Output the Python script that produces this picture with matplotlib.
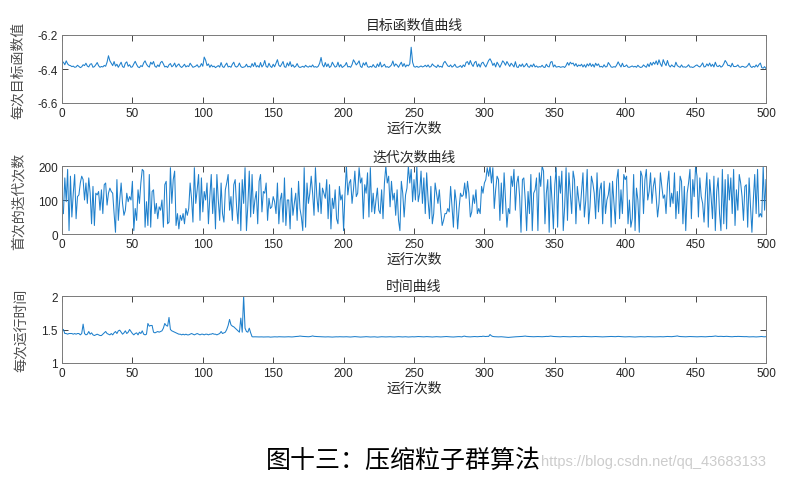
import numpy as np
import matplotlib
matplotlib.use('Agg')
import matplotlib.pyplot as plt

plt.rcParams['font.family'] = ['Liberation Sans', 'Noto Sans CJK SC']
plt.rcParams['axes.unicode_minus'] = False

# 每次目标函数值 (500 runs)
obj_vals = [
    -6.360, -6.375, -6.352, -6.370, -6.378, -6.380, -6.386, -6.383, -6.390, -6.388, -6.378, -6.385, -6.392, -6.387, -6.375, -6.380, -6.366, -6.383, -6.388, -6.372, -6.369, -6.390, -6.386, -6.375, -6.362,
    -6.381, -6.390, -6.385, -6.388, -6.379, -6.384, -6.360, -6.322, -6.352, -6.366, -6.380, -6.356, -6.383, -6.372, -6.390, -6.375, -6.360, -6.386, -6.391, -6.366, -6.358, -6.384, -6.375, -6.390, -6.387,
    -6.370, -6.355, -6.374, -6.388, -6.392, -6.380, -6.386, -6.364, -6.352, -6.372, -6.383, -6.389, -6.360, -6.372, -6.356, -6.384, -6.390, -6.376, -6.386, -6.362, -6.355, -6.370, -6.388, -6.384, -6.391,
    -6.375, -6.368, -6.387, -6.380, -6.365, -6.389, -6.378, -6.370, -6.385, -6.391, -6.383, -6.372, -6.388, -6.381, -6.386, -6.366, -6.378, -6.390, -6.387, -6.383, -6.375, -6.389, -6.386, -6.368, -6.384,
    -6.330, -6.348, -6.380, -6.370, -6.390, -6.376, -6.387, -6.383, -6.392, -6.386, -6.380, -6.389, -6.362, -6.386, -6.391, -6.377, -6.365, -6.388, -6.384, -6.390, -6.372, -6.360, -6.384, -6.389, -6.382,
    -6.365, -6.385, -6.391, -6.389, -6.386, -6.372, -6.388, -6.384, -6.390, -6.368, -6.385, -6.362, -6.388, -6.380, -6.390, -6.362, -6.388, -6.376, -6.350, -6.385, -6.390, -6.366, -6.384, -6.391, -6.372,
    -6.387, -6.366, -6.345, -6.378, -6.386, -6.372, -6.356, -6.387, -6.390, -6.364, -6.382, -6.357, -6.386, -6.375, -6.390, -6.384, -6.368, -6.386, -6.391, -6.388, -6.384, -6.390, -6.378, -6.386, -6.389,
    -6.382, -6.388, -6.376, -6.389, -6.386, -6.390, -6.384, -6.366, -6.332, -6.375, -6.388, -6.362, -6.386, -6.370, -6.391, -6.384, -6.360, -6.376, -6.389, -6.385, -6.360, -6.388, -6.374, -6.391, -6.385,
    -6.378, -6.362, -6.388, -6.385, -6.390, -6.374, -6.346, -6.360, -6.376, -6.366, -6.352, -6.385, -6.391, -6.364, -6.378, -6.360, -6.386, -6.390, -6.384, -6.389, -6.374, -6.387, -6.391, -6.370, -6.386,
    -6.360, -6.388, -6.381, -6.372, -6.389, -6.386, -6.391, -6.385, -6.376, -6.353, -6.384, -6.370, -6.378, -6.390, -6.374, -6.360, -6.385, -6.368, -6.388, -6.376, -6.382, -6.370, -6.272, -6.360, -6.386,
    -6.389, -6.384, -6.390, -6.387, -6.382, -6.388, -6.385, -6.378, -6.387, -6.376, -6.389, -6.386, -6.370, -6.380, -6.385, -6.391, -6.376, -6.388, -6.384, -6.390, -6.365, -6.355, -6.368, -6.382, -6.386,
    -6.376, -6.389, -6.383, -6.372, -6.388, -6.390, -6.386, -6.380, -6.391, -6.376, -6.386, -6.361, -6.357, -6.375, -6.350, -6.372, -6.385, -6.362, -6.355, -6.387, -6.370, -6.389, -6.366, -6.360, -6.376,
    -6.388, -6.369, -6.350, -6.340, -6.356, -6.379, -6.366, -6.388, -6.360, -6.374, -6.390, -6.372, -6.352, -6.362, -6.378, -6.356, -6.371, -6.385, -6.366, -6.376, -6.388, -6.357, -6.388, -6.391, -6.374,
    -6.385, -6.370, -6.388, -6.380, -6.367, -6.386, -6.390, -6.376, -6.387, -6.370, -6.388, -6.382, -6.390, -6.386, -6.388, -6.378, -6.389, -6.391, -6.372, -6.385, -6.388, -6.360, -6.356, -6.388, -6.376,
    -6.389, -6.387, -6.385, -6.390, -6.388, -6.386, -6.391, -6.380, -6.362, -6.378, -6.360, -6.370, -6.365, -6.382, -6.368, -6.386, -6.376, -6.382, -6.372, -6.388, -6.375, -6.390, -6.370, -6.382, -6.366,
    -6.385, -6.372, -6.389, -6.366, -6.380, -6.370, -6.388, -6.384, -6.390, -6.375, -6.388, -6.386, -6.362, -6.374, -6.388, -6.390, -6.386, -6.389, -6.376, -6.358, -6.375, -6.388, -6.366, -6.386, -6.384,
    -6.376, -6.389, -6.390, -6.386, -6.382, -6.388, -6.384, -6.390, -6.378, -6.387, -6.391, -6.388, -6.376, -6.384, -6.390, -6.370, -6.386, -6.362, -6.378, -6.360, -6.372, -6.352, -6.375, -6.346, -6.370,
    -6.385, -6.345, -6.366, -6.380, -6.350, -6.378, -6.388, -6.376, -6.384, -6.388, -6.360, -6.380, -6.386, -6.390, -6.376, -6.389, -6.387, -6.390, -6.385, -6.375, -6.389, -6.388, -6.391, -6.387, -6.380,
    -6.376, -6.384, -6.388, -6.378, -6.364, -6.388, -6.386, -6.370, -6.382, -6.365, -6.385, -6.372, -6.388, -6.360, -6.382, -6.386, -6.378, -6.389, -6.384, -6.370, -6.350, -6.362, -6.380, -6.378, -6.388,
    -6.366, -6.385, -6.386, -6.384, -6.376, -6.388, -6.390, -6.384, -6.386, -6.390, -6.388, -6.380, -6.366, -6.385, -6.391, -6.384, -6.389, -6.376, -6.388, -6.374, -6.365, -6.392, -6.395, -6.386, -6.398,
]

# 首次的迭代次数
iter_vals = [
    60, 165, 95, 190, 10, 170, 50, 120, 175, 45, 110, 115, 150, 170, 160, 100, 150, 90, 165, 120, 30, 140, 25, 120, 115,
    125, 70, 130, 60, 145, 150, 85, 120, 135, 125, 120, 60, 5, 160, 40, 100, 150, 90, 55, 70, 120, 95, 110, 100, 155,
    10, 75, 40, 130, 90, 150, 190, 185, 20, 95, 25, 175, 20, 125, 130, 60, 90, 45, 80, 70, 100, 20, 145, 155, 30,
    35, 195, 90, 160, 185, 25, 60, 15, 55, 40, 60, 30, 75, 55, 75, 150, 105, 35, 195, 90, 130, 175, 40, 165, 65,
    125, 100, 150, 30, 110, 175, 60, 135, 15, 175, 100, 40, 150, 60, 35, 130, 150, 175, 70, 110, 40, 145, 160, 80, 30,
    150, 10, 160, 90, 195, 10, 85, 185, 50, 175, 60, 100, 125, 30, 155, 175, 65, 125, 120, 150, 40, 105, 75, 80, 110,
    95, 60, 150, 30, 100, 120, 35, 165, 25, 100, 100, 15, 135, 55, 90, 120, 40, 155, 75, 50, 10, 195, 20, 150, 90,
    120, 170, 120, 55, 195, 110, 65, 150, 60, 135, 120, 105, 160, 45, 145, 15, 105, 75, 130, 45, 30, 140, 100, 115, 10,
    120, 200, 115, 150, 160, 90, 130, 185, 110, 120, 195, 150, 165, 45, 145, 120, 180, 50, 195, 65, 120, 60, 100, 135, 70,
    60, 130, 45, 150, 200, 150, 170, 80, 155, 100, 120, 55, 130, 40, 10, 155, 120, 50, 115, 135, 200, 150, 190, 95, 160,
    100, 200, 95, 120, 185, 90, 165, 60, 180, 100, 45, 140, 30, 60, 150, 120, 90, 130, 70, 25, 40, 60, 60, 75, 65,
    140, 80, 20, 130, 95, 15, 75, 120, 110, 115, 150, 105, 155, 120, 50, 65, 115, 90, 130, 60, 75, 60, 140, 120, 150,
    160, 195, 170, 200, 150, 195, 75, 130, 170, 160, 40, 150, 60, 180, 100, 20, 75, 60, 170, 140, 190, 70, 150, 170, 110,
    5, 160, 165, 100, 10, 125, 60, 175, 10, 120, 130, 165, 10, 180, 140, 200, 185, 30, 120, 160, 5, 170, 100, 15, 145,
    195, 20, 170, 120, 185, 10, 80, 195, 40, 180, 120, 60, 185, 160, 30, 140, 100, 70, 125, 180, 50, 100, 190, 30, 80,
    170, 150, 120, 45, 180, 65, 130, 150, 30, 155, 60, 100, 115, 150, 20, 155, 90, 30, 160, 190, 45, 130, 60, 175, 160,
    170, 30, 100, 20, 45, 175, 10, 135, 100, 5, 185, 170, 60, 160, 190, 100, 125, 180, 90, 140, 165, 110, 50, 90, 180,
    140, 105, 115, 60, 145, 185, 80, 120, 90, 180, 45, 125, 60, 170, 155, 30, 140, 10, 120, 150, 190, 45, 160, 110, 200,
    170, 50, 165, 110, 90, 35, 120, 180, 20, 160, 110, 45, 170, 10, 125, 165, 60, 10, 190, 30, 160, 15, 175, 100, 165,
    60, 190, 25, 130, 70, 175, 150, 110, 40, 140, 145, 20, 165, 80, 5, 100, 175, 60, 190, 50, 60, 50, 200, 70, 160,
]

# 每次运行时间
time_vals = [
    1.50, 1.44, 1.44, 1.43, 1.44, 1.44, 1.44, 1.43, 1.44, 1.43, 1.44, 1.44, 1.42, 1.44,
    1.58, 1.44, 1.42, 1.43, 1.47, 1.43, 1.45, 1.42, 1.41, 1.42, 1.43,
    1.42, 1.41, 1.41, 1.43, 1.45, 1.47, 1.44, 1.43, 1.42, 1.44, 1.42, 1.45,
    1.47, 1.44, 1.48, 1.49, 1.46, 1.43, 1.45, 1.48, 1.44, 1.46, 1.50,
    1.47, 1.44, 1.42, 1.44, 1.45, 1.42, 1.46, 1.44, 1.48, 1.43, 1.42, 1.43,
    1.59, 1.55, 1.56, 1.56, 1.46, 1.45, 1.46, 1.47, 1.46, 1.47, 1.48,
    1.52, 1.59, 1.56, 1.55, 1.68, 1.50, 1.48, 1.47,
    1.46, 1.45, 1.44, 1.43, 1.43, 1.42, 1.43, 1.42, 1.43, 1.42, 1.42, 1.43, 1.44, 1.43, 1.42, 1.43,
    1.44, 1.43, 1.42, 1.43, 1.43, 1.42, 1.43, 1.43, 1.42, 1.43, 1.43, 1.44, 1.43, 1.43, 1.42, 1.43, 1.44,
    1.47, 1.44, 1.45, 1.46, 1.50, 1.56, 1.65, 1.57, 1.55, 1.54, 1.52, 1.50, 1.48, 1.46,
    1.67, 1.46, 2.00, 1.52, 1.47, 1.46, 1.52, 1.45,
    1.392, 1.390, 1.391, 1.390, 1.390, 1.389, 1.390, 1.390, 1.388, 1.389, 1.391, 1.390, 1.390, 1.386, 1.388, 1.390,
    1.391, 1.390, 1.389, 1.392, 1.391, 1.390, 1.388, 1.389, 1.390, 1.391, 1.392, 1.390, 1.389, 1.390, 1.393, 1.395, 1.396, 1.398, 1.402, 1.399, 1.397, 1.396, 1.394, 1.393, 1.392,
    1.394, 1.398, 1.404, 1.398, 1.396, 1.395, 1.394, 1.393, 1.392, 1.391, 1.390, 1.389, 1.390, 1.391, 1.390, 1.388, 1.387, 1.389, 1.390, 1.391, 1.390, 1.392, 1.391, 1.389, 1.390,
    1.391, 1.392, 1.390, 1.389, 1.388, 1.390, 1.392, 1.394, 1.392, 1.390, 1.389, 1.387, 1.388, 1.390, 1.391, 1.393, 1.392, 1.390, 1.388, 1.389, 1.390, 1.391, 1.389, 1.386, 1.388,
    1.390, 1.392, 1.391, 1.390, 1.389, 1.390, 1.391, 1.392, 1.390, 1.389, 1.388, 1.390, 1.391, 1.393, 1.392, 1.390, 1.389, 1.391, 1.392, 1.390, 1.388, 1.389, 1.391, 1.392, 1.390,
    1.391, 1.393, 1.395, 1.394, 1.392, 1.391, 1.390, 1.392, 1.394, 1.393, 1.391, 1.390, 1.388, 1.390, 1.392, 1.393, 1.392, 1.390, 1.389, 1.391, 1.392, 1.393, 1.395, 1.393, 1.391,
    1.390, 1.389, 1.388, 1.390, 1.391, 1.393, 1.394, 1.392, 1.390, 1.398, 1.401, 1.394, 1.392, 1.391, 1.390, 1.392, 1.394, 1.395, 1.393, 1.392, 1.394, 1.396, 1.395, 1.400, 1.397,
    1.395, 1.398, 1.396, 1.425, 1.405, 1.396, 1.393, 1.392, 1.391, 1.390, 1.391, 1.392, 1.390, 1.388, 1.386, 1.383, 1.382, 1.384, 1.386, 1.388, 1.390, 1.391, 1.392, 1.393, 1.394,
    1.396, 1.397, 1.399, 1.402, 1.398, 1.396, 1.395, 1.394, 1.393, 1.392, 1.393, 1.394, 1.395, 1.394, 1.393, 1.392, 1.393, 1.395, 1.397, 1.396, 1.398, 1.402, 1.399, 1.396, 1.395,
    1.394, 1.393, 1.392, 1.391, 1.393, 1.395, 1.394, 1.392, 1.391, 1.390, 1.391, 1.393, 1.394, 1.395, 1.394, 1.393, 1.392, 1.393, 1.395, 1.397, 1.396, 1.394, 1.393, 1.392, 1.391,
    1.392, 1.393, 1.394, 1.395, 1.394, 1.393, 1.392, 1.391, 1.390, 1.391, 1.392, 1.393, 1.394, 1.395, 1.396, 1.395, 1.394, 1.393, 1.395, 1.397, 1.396, 1.394, 1.392, 1.391, 1.390,
    1.391, 1.392, 1.393, 1.392, 1.390, 1.389, 1.388, 1.390, 1.391, 1.392, 1.393, 1.392, 1.391, 1.390, 1.392, 1.394, 1.393, 1.391, 1.390, 1.389, 1.390, 1.391, 1.393, 1.394, 1.393,
    1.392, 1.391, 1.393, 1.395, 1.396, 1.395, 1.394, 1.393, 1.395, 1.397, 1.400, 1.404, 1.398, 1.395, 1.394, 1.393, 1.392, 1.391, 1.393, 1.394, 1.395, 1.394, 1.392, 1.391, 1.390,
    1.391, 1.392, 1.393, 1.394, 1.393, 1.392, 1.391, 1.393, 1.395, 1.396, 1.395, 1.397, 1.399, 1.403, 1.399, 1.396, 1.397, 1.398, 1.396, 1.395, 1.397, 1.398, 1.396, 1.395, 1.393,
    1.392, 1.394, 1.396, 1.395, 1.397, 1.396, 1.394, 1.393, 1.392, 1.393, 1.394, 1.392, 1.390, 1.391, 1.393, 1.392, 1.390, 1.389, 1.390, 1.392, 1.394, 1.396, 1.392, 1.391, 1.393,
]

titles = ['目标函数值曲线', '迭代次数曲线', '时间曲线']
ylabels = ['每次目标函数值', '首次的迭代次数', '每次运行时间']
ylims = [(-6.6, -6.2), (0, 200), (1, 2)]
yticks = [[-6.6, -6.4, -6.2], [0, 100, 200], [1, 1.5, 2]]
ytick_labels = [['-6.6', '-6.4', '-6.2'], ['0', '100', '200'], ['1', '1.5', '2']]
xticks = list(range(0, 501, 50))
series = [obj_vals, iter_vals, time_vals]

line_color = '#1f80cc'
text_color = '#262626'
label_color = '#4d4d4d'

W, H = 789, 481
fig = plt.figure(figsize=(W / 100, H / 100), dpi=100)
fig.patch.set_facecolor('white')

# axes boxes in pixels: (left, top, right, bottom)
boxes = [(62, 36, 766, 104), (62, 167, 766, 235), (62, 297, 766, 364)]
ylab_x = [-0.053, -0.051, -0.048]

for i, (l, t, r, b) in enumerate(boxes):
    ax = fig.add_axes([l / W, 1 - b / H, (r - l) / W, (b - t) / H])
    y = series[i]
    x = np.arange(1, len(y) + 1)
    ax.plot(x, y, color=line_color, lw=0.75)
    ax.set_xlim(0, 500)
    ax.set_ylim(*ylims[i])
    ax.set_xticks(xticks)
    ax.set_yticks(yticks[i])
    ax.set_yticklabels(ytick_labels[i])
    ax.tick_params(direction='in', top=True, right=True, length=4, width=0.6,
                   labelsize=8.5, colors=text_color, pad=3)
    for sp in ax.spines.values():
        sp.set_color('#7a7a7a')
        sp.set_linewidth(0.7)
    ax.set_title(titles[i], fontsize=10, color=text_color, pad=4)
    ax.set_xlabel('运行次数', fontsize=10, color=text_color, labelpad=1)
    ax.set_ylabel(ylabels[i], fontsize=10, color=label_color)
    ax.yaxis.set_label_coords(ylab_x[i], 0.5)

fig.text(541 / W, 1 - 461 / H, '图十三：压缩粒子群算法', ha='right', va='center',
         fontsize=18, color='black', family=['Noto Sans CJK SC'])
fig.text(541 / W, 1 - 462 / H, 'https://blog.csdn.net/qq_43683133', ha='left', va='center',
         fontsize=10.5, color='#cccccc', family=['Liberation Sans'])

fig.savefig('out.png', dpi=100, facecolor='white')
